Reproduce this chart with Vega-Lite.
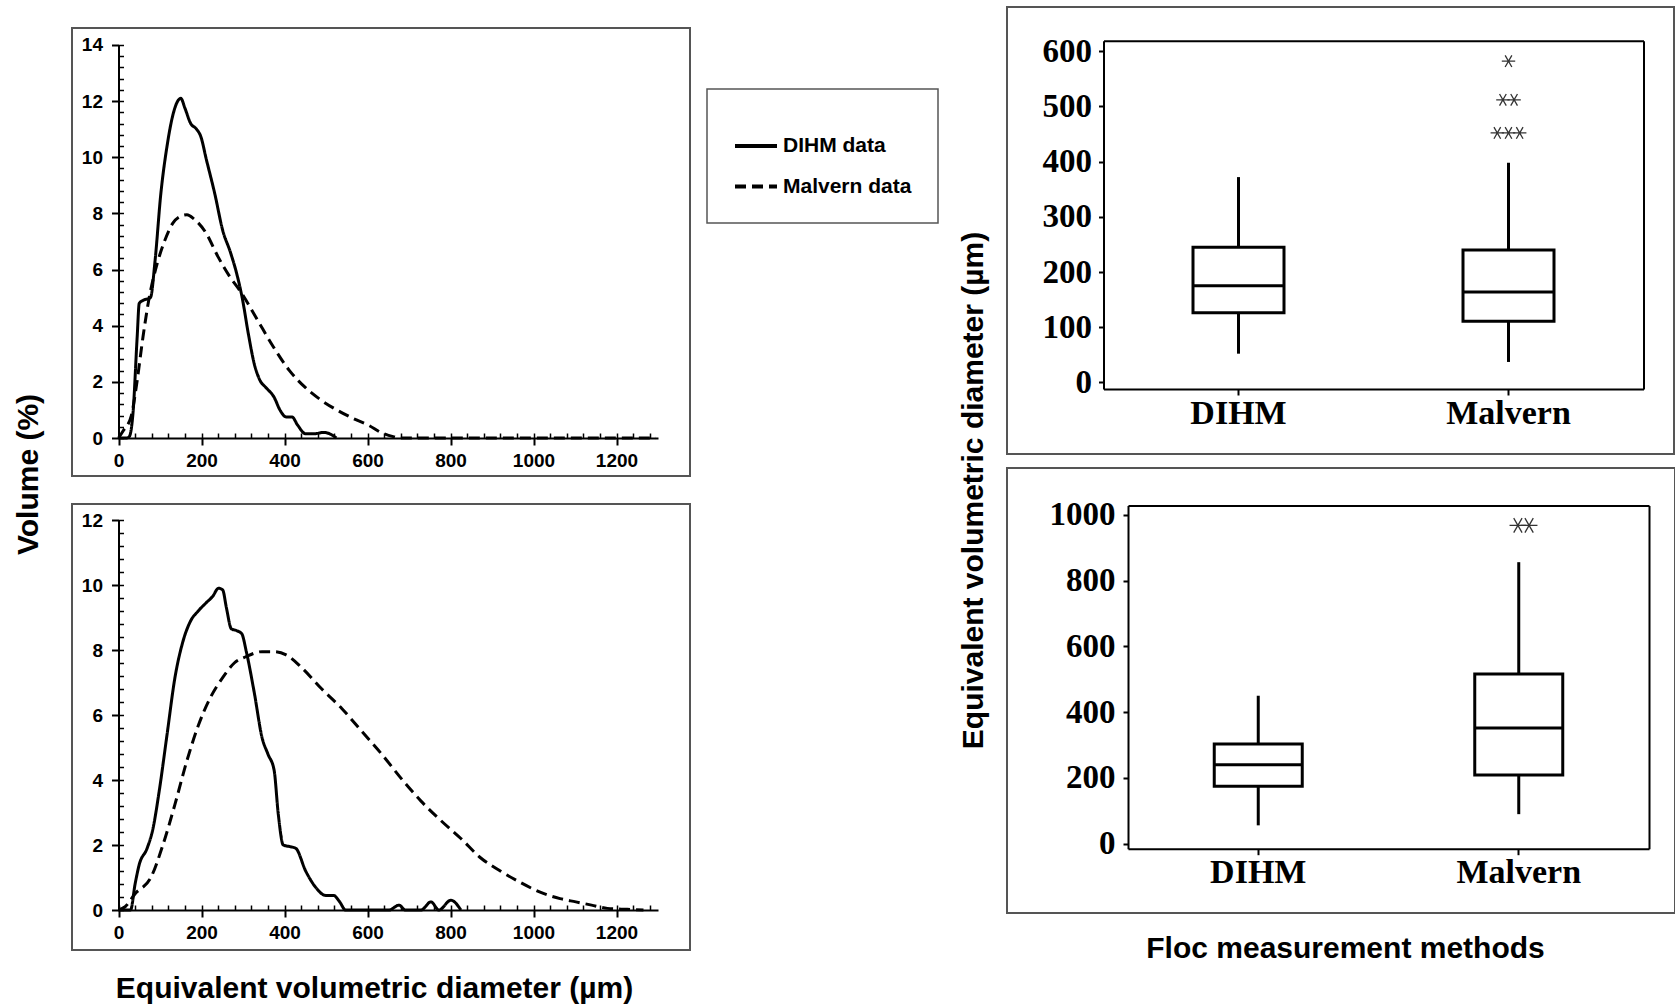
{
"$schema": "https://vega.github.io/schema/vega-lite/v6.json",
"background": "white",
"padding": {"left": 12, "top": 6, "right": 0, "bottom": 0},
"spacing": 266,
"bounds": "full",
"config": {
  "view": {"stroke": "#555555", "strokeWidth": 2},
  "axis": {"domainColor": "black", "tickColor": "black", "labelColor": "black", "titleColor": "black", "grid": false, "labelFlush": false, "titleFont": "Liberation Sans", "titleFontWeight": "bold", "titleFontSize": 30},
  "legend": {"labelFont": "Liberation Sans", "labelFontWeight": "bold", "labelFontSize": 21, "labelColor": "black", "symbolType": "stroke", "symbolSize": 1764, "symbolStrokeWidth": 4, "symbolStrokeColor": "black", "strokeColor": "#555555", "strokeWidth": 1.5, "padding": 26, "rowPadding": 7.5, "labelOffset": 4, "titleFontSize": 1, "titlePadding": 7}
},
"hconcat": [
  {
    "vconcat": [
      {"data": {"values": []}, "mark": "point", "width": 10, "height": 1, "view": {"stroke": null, "fill": "white"}},
      {
        "vconcat": [
          {
            "width": 618, "height": 448,
            "data": {"values": [
              {"series":"DIHM data","diameter":0,"volume":0},{"series":"DIHM data","diameter":20,"volume":0},{"series":"DIHM data","diameter":26,"volume":0.05},{"series":"DIHM data","diameter":35,"volume":0.9},{"series":"DIHM data","diameter":45,"volume":3.6},{"series":"DIHM data","diameter":50,"volume":4.8},{"series":"DIHM data","diameter":59,"volume":4.9},{"series":"DIHM data","diameter":77,"volume":5.0},{"series":"DIHM data","diameter":88,"volume":6.3},{"series":"DIHM data","diameter":102,"volume":8.7},{"series":"DIHM data","diameter":117,"volume":10.4},{"series":"DIHM data","diameter":131,"volume":11.5},{"series":"DIHM data","diameter":145,"volume":12.05},{"series":"DIHM data","diameter":150,"volume":12.1},{"series":"DIHM data","diameter":160,"volume":11.75},{"series":"DIHM data","diameter":174,"volume":11.2},{"series":"DIHM data","diameter":188,"volume":11.0},{"series":"DIHM data","diameter":198,"volume":10.75},{"series":"DIHM data","diameter":212,"volume":9.9},{"series":"DIHM data","diameter":232,"volume":8.7},{"series":"DIHM data","diameter":251,"volume":7.4},{"series":"DIHM data","diameter":270,"volume":6.6},{"series":"DIHM data","diameter":284,"volume":5.9},{"series":"DIHM data","diameter":298,"volume":5.0},{"series":"DIHM data","diameter":313,"volume":3.7},{"series":"DIHM data","diameter":327,"volume":2.65},{"series":"DIHM data","diameter":341,"volume":2.05},{"series":"DIHM data","diameter":355,"volume":1.8},{"series":"DIHM data","diameter":375,"volume":1.45},{"series":"DIHM data","diameter":389,"volume":1.0},{"series":"DIHM data","diameter":404,"volume":0.75},{"series":"DIHM data","diameter":418,"volume":0.75},{"series":"DIHM data","diameter":432,"volume":0.45},{"series":"DIHM data","diameter":451,"volume":0.15},{"series":"DIHM data","diameter":471,"volume":0.15},{"series":"DIHM data","diameter":495,"volume":0.2},{"series":"DIHM data","diameter":509,"volume":0.15},{"series":"DIHM data","diameter":525,"volume":0},
              {"series":"Malvern data","diameter":0,"volume":0},{"series":"Malvern data","diameter":11,"volume":0.25},{"series":"Malvern data","diameter":31,"volume":0.8},{"series":"Malvern data","diameter":45,"volume":2.05},{"series":"Malvern data","diameter":59,"volume":3.6},{"series":"Malvern data","diameter":74,"volume":5.0},{"series":"Malvern data","diameter":93,"volume":6.2},{"series":"Malvern data","diameter":112,"volume":7.05},{"series":"Malvern data","diameter":131,"volume":7.65},{"series":"Malvern data","diameter":150,"volume":7.9},{"series":"Malvern data","diameter":165,"volume":7.95},{"series":"Malvern data","diameter":182,"volume":7.8},{"series":"Malvern data","diameter":211,"volume":7.3},{"series":"Malvern data","diameter":240,"volume":6.45},{"series":"Malvern data","diameter":268,"volume":5.75},{"series":"Malvern data","diameter":297,"volume":5.15},{"series":"Malvern data","diameter":335,"volume":4.2},{"series":"Malvern data","diameter":373,"volume":3.25},{"series":"Malvern data","diameter":412,"volume":2.4},{"series":"Malvern data","diameter":450,"volume":1.8},{"series":"Malvern data","diameter":488,"volume":1.35},{"series":"Malvern data","diameter":526,"volume":1.0},{"series":"Malvern data","diameter":565,"volume":0.7},{"series":"Malvern data","diameter":603,"volume":0.45},{"series":"Malvern data","diameter":632,"volume":0.2},{"series":"Malvern data","diameter":662,"volume":0.05},{"series":"Malvern data","diameter":680,"volume":0},{"series":"Malvern data","diameter":1295,"volume":0}
            ]},
            "resolve": {"scale": {"x": "independent", "y": "independent"}, "axis": {"x": "independent", "y": "independent"}},
            "layer": [
              {
                "transform": [{"filter": "datum.series === 'DIHM data'"}],
                "mark": {"type": "line", "interpolate": "monotone", "strokeWidth": 3, "color": "black"},
                "encoding": {
                  "x": {"field": "diameter", "type": "quantitative", "scale": {"domain": [0, 1300], "range": [46.5, 586], "nice": false, "zero": false},
                        "axis": {"orient": "bottom", "offset": -38, "values": [0,200,400,600,800,1000,1200], "format": "d", "tickSize": 7, "tickWidth": 2, "domainWidth": 2, "labelFont": "Liberation Sans", "labelFontWeight": "bold", "labelFontSize": 19, "labelPadding": 6, "title": null}},
                  "y": {"field": "volume", "type": "quantitative", "scale": {"domain": [0, 14], "range": [410, 16.9], "nice": false, "zero": false},
                        "axis": {"orient": "left", "offset": -46.5, "values": [0,2,4,6,8,10,12,14], "format": "d", "tickSize": 7, "tickWidth": 2, "domainWidth": 2, "labelFont": "Liberation Sans", "labelFontWeight": "bold", "labelFontSize": 19, "labelPadding": 9,
                                 "title": "Volume (%)", "titleX": -90.5, "titleY": 446, "titleAngle": -90, "titleAlign": "center", "titleBaseline": "middle"}},
                  "strokeDash": {"field": "series", "type": "nominal", "scale": {"domain": ["DIHM data", "Malvern data"], "range": [[1, 0], [11, 6]]}, "legend": {"orient": "none", "legendX": 635, "legendY": 82, "title": " "}}
                }
              },
              {
                "transform": [{"filter": "datum.series === 'Malvern data'"}],
                "mark": {"type": "line", "interpolate": "monotone", "strokeWidth": 3, "color": "black"},
                "encoding": {
                  "x": {"field": "diameter", "type": "quantitative", "scale": {"domain": [0, 1300], "range": [46.5, 586], "nice": false, "zero": false},
                        "axis": {"orient": "bottom", "offset": -38, "values": [0,40,80,120,160,200,240,280,320,360,400,440,480,520,560,600,640,680,720,760,800,840,880,920,960,1000,1040,1080,1120,1160,1200,1240,1280], "tickSize": -5, "tickWidth": 1.5, "labels": false, "domain": false, "title": null}},
                  "y": {"field": "volume", "type": "quantitative", "scale": {"domain": [0, 14], "range": [410, 16.9], "nice": false, "zero": false},
                        "axis": {"orient": "left", "offset": -46.5, "values": [0,0.4,0.8,1.2,1.6,2,2.4,2.8,3.2,3.6,4,4.4,4.8,5.2,5.6,6,6.4,6.8,7.2,7.6,8,8.4,8.8,9.2,9.6,10,10.4,10.8,11.2,11.6,12,12.4,12.8,13.2,13.6,14], "tickSize": -5, "tickWidth": 1.5, "labels": false, "domain": false, "title": null}},
                  "strokeDash": {"field": "series", "type": "nominal", "scale": {"domain": ["DIHM data", "Malvern data"], "range": [[1, 0], [11, 6]]}, "legend": {"orient": "none", "legendX": 635, "legendY": 82, "title": " "}}
                }
              }
            ]
          },
          {
            "width": 618, "height": 446,
            "data": {"values": [
              {"series":"DIHM data","diameter":0,"volume":0},{"series":"DIHM data","diameter":29,"volume":0},{"series":"DIHM data","diameter":40,"volume":0.8},{"series":"DIHM data","diameter":50,"volume":1.4},{"series":"DIHM data","diameter":69,"volume":1.9},{"series":"DIHM data","diameter":83,"volume":2.5},{"series":"DIHM data","diameter":98,"volume":3.65},{"series":"DIHM data","diameter":117,"volume":5.4},{"series":"DIHM data","diameter":136,"volume":7.15},{"series":"DIHM data","diameter":155,"volume":8.25},{"series":"DIHM data","diameter":174,"volume":8.9},{"series":"DIHM data","diameter":192,"volume":9.2},{"series":"DIHM data","diameter":211,"volume":9.45},{"series":"DIHM data","diameter":227,"volume":9.65},{"series":"DIHM data","diameter":241,"volume":9.9},{"series":"DIHM data","diameter":251,"volume":9.85},{"series":"DIHM data","diameter":260,"volume":9.3},{"series":"DIHM data","diameter":272,"volume":8.65},{"series":"DIHM data","diameter":284,"volume":8.6},{"series":"DIHM data","diameter":297,"volume":8.5},{"series":"DIHM data","diameter":308,"volume":7.95},{"series":"DIHM data","diameter":327,"volume":6.7},{"series":"DIHM data","diameter":346,"volume":5.3},{"series":"DIHM data","diameter":360,"volume":4.8},{"series":"DIHM data","diameter":375,"volume":4.3},{"series":"DIHM data","diameter":385,"volume":2.95},{"series":"DIHM data","diameter":397,"volume":2.0},{"series":"DIHM data","diameter":413,"volume":1.95},{"series":"DIHM data","diameter":427,"volume":1.9},{"series":"DIHM data","diameter":451,"volume":1.2},{"series":"DIHM data","diameter":475,"volume":0.7},{"series":"DIHM data","diameter":499,"volume":0.45},{"series":"DIHM data","diameter":518,"volume":0.45},{"series":"DIHM data","diameter":533,"volume":0.25},{"series":"DIHM data","diameter":547,"volume":0},{"series":"DIHM data","diameter":652,"volume":0},{"series":"DIHM data","diameter":676,"volume":0.15},{"series":"DIHM data","diameter":691,"volume":0},{"series":"DIHM data","diameter":729,"volume":0},{"series":"DIHM data","diameter":753,"volume":0.25},{"series":"DIHM data","diameter":772,"volume":0},{"series":"DIHM data","diameter":801,"volume":0.3},{"series":"DIHM data","diameter":825,"volume":0},
              {"series":"Malvern data","diameter":0,"volume":0},{"series":"Malvern data","diameter":16,"volume":0.1},{"series":"Malvern data","diameter":40,"volume":0.5},{"series":"Malvern data","diameter":78,"volume":1.0},{"series":"Malvern data","diameter":107,"volume":2.0},{"series":"Malvern data","diameter":136,"volume":3.25},{"series":"Malvern data","diameter":165,"volume":4.6},{"series":"Malvern data","diameter":193,"volume":5.7},{"series":"Malvern data","diameter":222,"volume":6.55},{"series":"Malvern data","diameter":251,"volume":7.15},{"series":"Malvern data","diameter":279,"volume":7.6},{"series":"Malvern data","diameter":308,"volume":7.8},{"series":"Malvern data","diameter":346,"volume":7.95},{"series":"Malvern data","diameter":375,"volume":7.95},{"series":"Malvern data","diameter":404,"volume":7.85},{"series":"Malvern data","diameter":442,"volume":7.45},{"series":"Malvern data","diameter":490,"volume":6.8},{"series":"Malvern data","diameter":538,"volume":6.2},{"series":"Malvern data","diameter":586,"volume":5.5},{"series":"Malvern data","diameter":634,"volume":4.8},{"series":"Malvern data","diameter":681,"volume":4.05},{"series":"Malvern data","diameter":729,"volume":3.35},{"series":"Malvern data","diameter":777,"volume":2.75},{"series":"Malvern data","diameter":825,"volume":2.2},{"series":"Malvern data","diameter":873,"volume":1.6},{"series":"Malvern data","diameter":920,"volume":1.2},{"series":"Malvern data","diameter":968,"volume":0.85},{"series":"Malvern data","diameter":1016,"volume":0.55},{"series":"Malvern data","diameter":1064,"volume":0.35},{"series":"Malvern data","diameter":1102,"volume":0.25},{"series":"Malvern data","diameter":1140,"volume":0.15},{"series":"Malvern data","diameter":1178,"volume":0.05},{"series":"Malvern data","diameter":1226,"volume":0.02},{"series":"Malvern data","diameter":1265,"volume":0}
            ]},
            "resolve": {"scale": {"x": "independent", "y": "independent"}, "axis": {"x": "independent", "y": "independent"}},
            "layer": [
              {
                "transform": [{"filter": "datum.series === 'DIHM data'"}],
                "mark": {"type": "line", "interpolate": "monotone", "strokeWidth": 3, "color": "black"},
                "encoding": {
                  "x": {"field": "diameter", "type": "quantitative", "scale": {"domain": [0, 1300], "range": [46.5, 586], "nice": false, "zero": false},
                        "axis": {"orient": "bottom", "offset": -40, "values": [0,200,400,600,800,1000,1200], "format": "d", "tickSize": 7, "tickWidth": 2, "domainWidth": 2, "labelFont": "Liberation Sans", "labelFontWeight": "bold", "labelFontSize": 19, "labelPadding": 6,
                                 "title": "Equivalent volumetric diameter (µm)", "titleX": 302, "titleY": 78, "titleAlign": "center", "titleBaseline": "middle"}},
                  "y": {"field": "volume", "type": "quantitative", "scale": {"domain": [0, 12], "range": [406, 16], "nice": false, "zero": false},
                        "axis": {"orient": "left", "offset": -46.5, "values": [0,2,4,6,8,10,12], "format": "d", "tickSize": 7, "tickWidth": 2, "domainWidth": 2, "labelFont": "Liberation Sans", "labelFontWeight": "bold", "labelFontSize": 19, "labelPadding": 9, "title": null}},
                  "strokeDash": {"field": "series", "type": "nominal", "scale": {"domain": ["DIHM data", "Malvern data"], "range": [[1, 0], [11, 6]]}, "legend": {"orient": "none", "legendX": 635, "legendY": 82, "title": " "}}
                }
              },
              {
                "transform": [{"filter": "datum.series === 'Malvern data'"}],
                "mark": {"type": "line", "interpolate": "monotone", "strokeWidth": 3, "color": "black"},
                "encoding": {
                  "x": {"field": "diameter", "type": "quantitative", "scale": {"domain": [0, 1300], "range": [46.5, 586], "nice": false, "zero": false},
                        "axis": {"orient": "bottom", "offset": -40, "values": [0,40,80,120,160,200,240,280,320,360,400,440,480,520,560,600,640,680,720,760,800,840,880,920,960,1000,1040,1080,1120,1160,1200,1240,1280], "tickSize": -5, "tickWidth": 1.5, "labels": false, "domain": false, "title": null}},
                  "y": {"field": "volume", "type": "quantitative", "scale": {"domain": [0, 12], "range": [406, 16], "nice": false, "zero": false},
                        "axis": {"orient": "left", "offset": -46.5, "values": [0,0.4,0.8,1.2,1.6,2,2.4,2.8,3.2,3.6,4,4.4,4.8,5.2,5.6,6,6.4,6.8,7.2,7.6,8,8.4,8.8,9.2,9.6,10,10.4,10.8,11.2,11.6,12], "tickSize": -5, "tickWidth": 1.5, "labels": false, "domain": false, "title": null}},
                  "strokeDash": {"field": "series", "type": "nominal", "scale": {"domain": ["DIHM data", "Malvern data"], "range": [[1, 0], [11, 6]]}, "legend": {"orient": "none", "legendX": 635, "legendY": 82, "title": " "}}
                }
              }
            ]
          }
        ],
        "spacing": 28,
        "bounds": "flush"
      }
    ],
    "spacing": 20,
    "bounds": "flush"
  },
  {
    "vconcat": [
      {
        "width": 667, "height": 447,
        "data": {"values": [
          {"method": "DIHM", "lower": 52, "q1": 126, "median": 175, "q3": 245, "upper": 372},
          {"method": "Malvern", "lower": 37, "q1": 111, "median": 164, "q3": 240, "upper": 398}
        ]},
        "resolve": {"scale": {"x": "independent", "y": "independent"}, "axis": {"x": "independent", "y": "independent"}},
        "layer": [
          {
            "mark": {"type": "rule", "strokeWidth": 3, "color": "black"},
            "encoding": {
              "x": {"field": "method", "type": "nominal", "scale": {"domain": ["DIHM", "Malvern"], "range": [96.5, 636.5], "paddingInner": 0, "paddingOuter": 0},
                    "axis": {"orient": "bottom", "offset": -65, "labelAngle": 0, "labelFont": "Liberation Serif", "labelFontWeight": "bold", "labelFontSize": 34, "tickSize": 6, "tickWidth": 2, "domainWidth": 2, "labelPadding": 1, "title": null}},
              "y": {"field": "lower", "type": "quantitative", "scale": {"domain": [-12, 619], "range": [382, 33.8], "nice": false, "zero": false},
                    "axis": {"orient": "left", "offset": -96.5, "values": [0,100,200,300,400,500,600], "format": "d", "labelFont": "Liberation Serif", "labelFontWeight": "bold", "labelFontSize": 33, "tickSize": 5, "tickWidth": 2, "domainWidth": 2, "labelPadding": 7,
                             "title": "Equivalent volumetric diameter (µm)", "titleX": -130.5, "titleY": 483, "titleAngle": -90, "titleAlign": "center", "titleBaseline": "middle"}},
              "y2": {"field": "upper"}
            }
          },
          {
            "mark": {"type": "bar", "width": 91, "fill": "white", "stroke": "black", "strokeWidth": 3, "opacity": 1},
            "encoding": {
              "x": {"field": "method", "type": "nominal", "scale": {"domain": ["DIHM", "Malvern"], "range": [96.5, 636.5], "paddingInner": 0, "paddingOuter": 0}, "axis": null},
              "y": {"field": "q1", "type": "quantitative", "scale": {"domain": [-12, 619], "range": [382, 33.8], "nice": false, "zero": false}, "axis": null},
              "y2": {"field": "q3"}
            }
          },
          {
            "mark": {"type": "tick", "size": 91, "thickness": 3, "color": "black", "opacity": 1},
            "encoding": {
              "x": {"field": "method", "type": "nominal", "scale": {"domain": ["DIHM", "Malvern"], "range": [96.5, 636.5], "paddingInner": 0, "paddingOuter": 0}, "axis": null},
              "y": {"field": "median", "type": "quantitative", "scale": {"domain": [-12, 619], "range": [382, 33.8], "nice": false, "zero": false}, "axis": null}
            }
          },
          {
            "data": {"values": [
              {"method": "Malvern", "value": 582, "slot": "C"},
              {"method": "Malvern", "value": 512, "slot": "l"},
              {"method": "Malvern", "value": 512, "slot": "r"},
              {"method": "Malvern", "value": 452, "slot": "L"},
              {"method": "Malvern", "value": 452, "slot": "C"},
              {"method": "Malvern", "value": 452, "slot": "R"}
            ]},
            "mark": {"type": "point", "shape": "M-1,0L1,0M-0.5,-0.866L0.5,0.866M-0.5,0.866L0.5,-0.866", "size": 180, "filled": false, "color": "#333333", "strokeWidth": 1.3, "opacity": 1},
            "encoding": {
              "x": {"field": "method", "type": "nominal", "scale": {"domain": ["DIHM", "Malvern"], "range": [96.5, 636.5], "paddingInner": 0, "paddingOuter": 0},
                    "axis": {"orient": "top", "offset": -33.8, "labels": false, "ticks": false, "domainWidth": 2, "title": null}},
              "xOffset": {"field": "slot", "type": "nominal", "scale": {"type": "point", "domain": ["L", "l", "C", "r", "R"], "range": [121, 149]}},
              "y": {"field": "value", "type": "quantitative", "scale": {"domain": [-12, 619], "range": [382, 33.8], "nice": false, "zero": false},
                    "axis": {"orient": "right", "offset": -30.5, "labels": false, "ticks": false, "domainWidth": 2, "title": null}}
            }
          }
        ]
      },
      {
        "width": 668, "height": 445,
        "data": {"values": [
          {"method": "DIHM", "lower": 56, "q1": 175, "median": 240, "q3": 303, "upper": 450},
          {"method": "Malvern", "lower": 90, "q1": 209, "median": 352, "q3": 516, "upper": 856}
        ]},
        "resolve": {"scale": {"x": "independent", "y": "independent"}, "axis": {"x": "independent", "y": "independent"}},
        "layer": [
          {
            "mark": {"type": "rule", "strokeWidth": 3, "color": "black"},
            "encoding": {
              "x": {"field": "method", "type": "nominal", "scale": {"domain": ["DIHM", "Malvern"], "range": [121, 642], "paddingInner": 0, "paddingOuter": 0},
                    "axis": {"orient": "bottom", "offset": -64.3, "labelAngle": 0, "labelFont": "Liberation Serif", "labelFontWeight": "bold", "labelFontSize": 34, "tickSize": 6, "tickWidth": 2, "domainWidth": 2, "labelPadding": 1,
                             "title": "Floc measurement methods", "titleX": 338, "titleY": 100, "titleAlign": "center", "titleBaseline": "middle"}},
              "y": {"field": "lower", "type": "quantitative", "scale": {"domain": [-15, 1028], "range": [380.7, 37.6], "nice": false, "zero": false},
                    "axis": {"orient": "left", "offset": -121, "values": [0,200,400,600,800,1000], "format": "d", "labelFont": "Liberation Serif", "labelFontWeight": "bold", "labelFontSize": 33, "tickSize": 5, "tickWidth": 2, "domainWidth": 2, "labelPadding": 8, "title": null}},
              "y2": {"field": "upper"}
            }
          },
          {
            "mark": {"type": "bar", "width": 88, "fill": "white", "stroke": "black", "strokeWidth": 3, "opacity": 1},
            "encoding": {
              "x": {"field": "method", "type": "nominal", "scale": {"domain": ["DIHM", "Malvern"], "range": [121, 642], "paddingInner": 0, "paddingOuter": 0}, "axis": null},
              "y": {"field": "q1", "type": "quantitative", "scale": {"domain": [-15, 1028], "range": [380.7, 37.6], "nice": false, "zero": false}, "axis": null},
              "y2": {"field": "q3"}
            }
          },
          {
            "mark": {"type": "tick", "size": 88, "thickness": 3, "color": "black", "opacity": 1},
            "encoding": {
              "x": {"field": "method", "type": "nominal", "scale": {"domain": ["DIHM", "Malvern"], "range": [121, 642], "paddingInner": 0, "paddingOuter": 0}, "axis": null},
              "y": {"field": "median", "type": "quantitative", "scale": {"domain": [-15, 1028], "range": [380.7, 37.6], "nice": false, "zero": false}, "axis": null}
            }
          },
          {
            "data": {"values": [
              {"method": "Malvern", "value": 968, "slot": "l"},
              {"method": "Malvern", "value": 968, "slot": "r"}
            ]},
            "mark": {"type": "point", "shape": "M-1,0L1,0M-0.5,-0.866L0.5,0.866M-0.5,0.866L0.5,-0.866", "size": 280, "filled": false, "color": "#333333", "strokeWidth": 1.3, "opacity": 1},
            "encoding": {
              "x": {"field": "method", "type": "nominal", "scale": {"domain": ["DIHM", "Malvern"], "range": [121, 642], "paddingInner": 0, "paddingOuter": 0},
                    "axis": {"orient": "top", "offset": -37.6, "labels": false, "ticks": false, "domainWidth": 2, "title": null}},
              "xOffset": {"field": "slot", "type": "nominal", "scale": {"type": "point", "domain": ["L", "l", "C", "r", "R"], "range": [113.25, 147.25]}},
              "y": {"field": "value", "type": "quantitative", "scale": {"domain": [-15, 1028], "range": [380.7, 37.6], "nice": false, "zero": false},
                    "axis": {"orient": "right", "offset": -26, "labels": false, "ticks": false, "domainWidth": 2, "title": null}}
            }
          }
        ]
      }
    ],
    "spacing": 14,
    "bounds": "flush"
  }
]
}
